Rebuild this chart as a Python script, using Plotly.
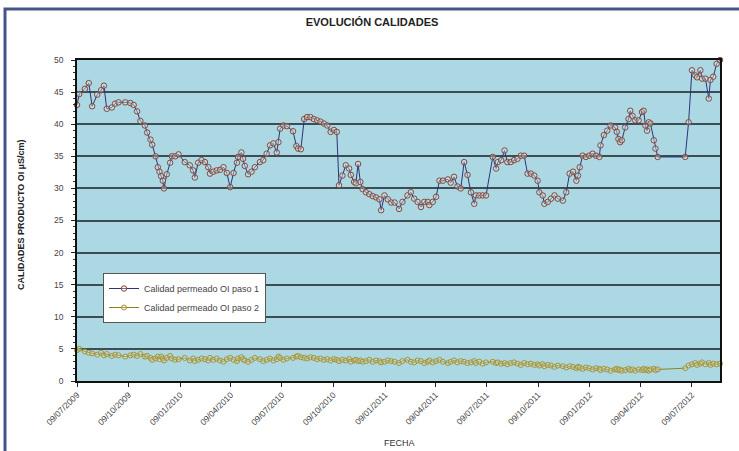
import plotly.graph_objects as go

# Fechas de muestreo
fechas = [
    "2009-07-09", "2009-07-13", "2009-07-23", "2009-07-30", "2009-08-05", "2009-08-14", "2009-08-21", "2009-08-26", "2009-08-31", "2009-09-09",
    "2009-09-15", "2009-09-21", "2009-10-03", "2009-10-12", "2009-10-18", "2009-10-24", "2009-10-30", "2009-11-07", "2009-11-11", "2009-11-17",
    "2009-11-20", "2009-11-26", "2009-11-30", "2009-12-03", "2009-12-06", "2009-12-09", "2009-12-11", "2009-12-16", "2009-12-22", "2009-12-25",
    "2009-12-31", "2010-01-06", "2010-01-17", "2010-01-26", "2010-02-01", "2010-02-04", "2010-02-10", "2010-02-16", "2010-02-22", "2010-02-28",
    "2010-03-03", "2010-03-09", "2010-03-15", "2010-03-21", "2010-03-27", "2010-04-02", "2010-04-08", "2010-04-14", "2010-04-20", "2010-04-22",
    "2010-04-28", "2010-05-01", "2010-05-04", "2010-05-10", "2010-05-16", "2010-05-22", "2010-05-31", "2010-06-06", "2010-06-12", "2010-06-18",
    "2010-06-24", "2010-06-30", "2010-07-03", "2010-07-06", "2010-07-12", "2010-07-18", "2010-07-29", "2010-08-04", "2010-08-07", "2010-08-12",
    "2010-08-18", "2010-08-23", "2010-08-29", "2010-09-04", "2010-09-10", "2010-09-16", "2010-09-22", "2010-09-28", "2010-10-04", "2010-10-10",
    "2010-10-15", "2010-10-19", "2010-10-25", "2010-10-31", "2010-11-06", "2010-11-09", "2010-11-15", "2010-11-18", "2010-11-22", "2010-11-26",
    "2010-11-30", "2010-12-06", "2010-12-12", "2010-12-18", "2010-12-24", "2010-12-30", "2011-01-02", "2011-01-08", "2011-01-14", "2011-01-20",
    "2011-01-26", "2011-02-03", "2011-02-09", "2011-02-18", "2011-02-24", "2011-03-02", "2011-03-08", "2011-03-14", "2011-03-20", "2011-03-26",
    "2011-03-29", "2011-04-04", "2011-04-10", "2011-04-16", "2011-04-22", "2011-05-01", "2011-05-06", "2011-05-12", "2011-05-18", "2011-05-24",
    "2011-05-30", "2011-06-05", "2011-06-11", "2011-06-17", "2011-06-20", "2011-06-26", "2011-07-02", "2011-07-08", "2011-07-20", "2011-07-26",
    "2011-07-29", "2011-08-04", "2011-08-10", "2011-08-15", "2011-08-21", "2011-08-27", "2011-09-02", "2011-09-08", "2011-09-14", "2011-09-20",
    "2011-09-26", "2011-10-02", "2011-10-08", "2011-10-11", "2011-10-17", "2011-10-20", "2011-10-26", "2011-11-01", "2011-11-07", "2011-11-13",
    "2011-11-22", "2011-11-28", "2011-12-04", "2011-12-10", "2011-12-16", "2011-12-19", "2011-12-22", "2011-12-27", "2012-01-02", "2012-01-08",
    "2012-01-14", "2012-01-20", "2012-01-26", "2012-01-28", "2012-02-03", "2012-02-09", "2012-02-15", "2012-02-23", "2012-02-26", "2012-02-29",
    "2012-03-03", "2012-03-06", "2012-03-12", "2012-03-18", "2012-03-21", "2012-03-25", "2012-03-30", "2012-04-05", "2012-04-11", "2012-04-14",
    "2012-04-17", "2012-04-20", "2012-04-23", "2012-04-26", "2012-05-02", "2012-05-05", "2012-05-09", "2012-06-27", "2012-07-03", "2012-07-09",
    "2012-07-15", "2012-07-18", "2012-07-24", "2012-07-27", "2012-08-02", "2012-08-08", "2012-08-11", "2012-08-16", "2012-08-22", "2012-08-28",
]

# Conductividad del permeado OI paso 1 (µS/cm)
paso1 = [
    43.0, 44.7, 45.5, 46.4, 42.8, 44.6, 45.3, 46.0, 42.4, 42.6,
    43.2, 43.4, 43.4, 43.3, 43.0, 42.0, 40.5, 39.8, 38.7, 37.6,
    36.8, 35.0, 33.3, 32.6, 31.9, 31.2, 30.0, 32.2, 34.0, 35.0,
    35.0, 35.3, 34.1, 33.6, 32.8, 31.7, 34.0, 34.4, 34.1, 33.3,
    32.3, 32.6, 32.8, 32.9, 33.3, 32.4, 30.2, 32.4, 34.0, 34.9,
    35.6, 34.6, 33.5, 32.2, 32.6, 33.3, 34.1, 34.4, 35.4, 36.7,
    37.0, 35.6, 37.2, 39.3, 39.8, 39.7, 38.9, 36.6, 36.2, 36.1,
    40.8, 41.1, 41.1, 40.8, 40.6, 40.4, 40.1, 39.8, 38.8, 39.1,
    38.8, 30.5, 32.0, 33.6, 33.1, 32.1, 31.0, 30.8, 33.8, 31.0,
    29.9, 29.4, 29.1, 28.8, 28.6, 28.3, 26.6, 28.9, 28.3, 27.8,
    27.8, 26.8, 27.9, 28.9, 29.4, 28.4, 27.9, 27.1, 27.9, 27.9,
    27.4, 27.9, 28.7, 31.2, 31.2, 31.4, 30.9, 31.8, 30.3, 30.0,
    34.1, 32.1, 29.4, 27.6, 28.9, 28.9, 28.9, 28.9, 34.9, 33.1,
    34.1, 34.4, 35.9, 34.1, 34.1, 34.4, 34.6, 35.1, 35.1, 32.3,
    32.3, 32.0, 31.2, 29.4, 28.9, 27.6, 27.9, 28.4, 28.9, 28.4,
    28.1, 29.4, 32.3, 32.6, 31.2, 32.0, 33.3, 35.1, 34.9, 35.1,
    35.4, 35.1, 34.9, 36.7, 38.3, 39.0, 39.8, 39.5, 38.8, 37.7,
    37.2, 37.5, 39.5, 40.8, 42.1, 41.3, 40.6, 40.6, 41.9, 42.1,
    39.8, 39.0, 40.3, 40.1, 37.5, 36.2, 34.9, 34.9, 40.3, 48.4,
    47.6, 47.3, 48.4, 47.1, 47.1, 44.0, 46.9, 47.4, 49.4, 50.0,
]

# Conductividad del permeado OI paso 2 (µS/cm)
paso2 = [
    4.8, 5.0, 4.6, 4.4, 4.3, 4.1, 4.4, 4.0, 4.2, 3.9,
    4.1, 4.0, 3.8, 4.0, 4.1, 3.9, 4.2, 3.8, 3.9, 3.6,
    3.3, 3.5, 3.8, 3.4, 3.8, 3.5, 3.2, 3.6, 3.9, 3.5,
    3.3, 3.4, 3.6, 3.2, 3.5, 3.1, 3.3, 3.5, 3.4, 3.2,
    3.6, 3.3, 3.5, 3.2, 3.0, 3.4, 3.6, 3.3, 3.1, 3.5,
    3.7, 3.4, 3.2, 3.0, 3.3, 3.6, 3.4, 3.1, 3.3, 3.5,
    3.2, 3.4, 3.8, 3.6, 3.3, 3.5, 3.6, 3.8, 3.9, 3.7,
    3.6, 3.5, 3.7, 3.6, 3.4, 3.5, 3.3, 3.4, 3.2, 3.4,
    3.3, 3.1, 3.3, 3.2, 3.4, 3.0, 3.2, 3.3, 3.1, 3.2,
    3.0, 3.1, 3.3, 3.0, 3.2, 3.1, 2.9, 3.0, 3.2, 3.1,
    3.0, 2.8, 3.1, 3.3, 3.0, 2.9, 3.2, 3.1, 2.8, 3.0,
    3.2, 2.9, 3.1, 3.3, 3.0, 2.8, 3.0, 3.2, 2.9, 3.1,
    3.0, 2.8, 2.9, 3.1, 2.8, 3.0, 2.7, 2.9, 3.0, 2.8,
    2.9, 2.7, 2.8, 2.6, 2.8, 2.9, 2.7, 2.5, 2.8, 2.6,
    2.7, 2.5, 2.6, 2.4, 2.6, 2.3, 2.5, 2.4, 2.2, 2.4,
    2.3, 2.1, 2.3, 2.2, 2.0, 2.2, 2.1, 1.9, 2.1, 2.0,
    1.8, 2.0, 1.9, 1.7, 1.9, 1.8, 1.6, 1.8, 1.9, 1.7,
    1.8, 1.6, 1.7, 1.9, 1.7, 1.8, 1.6, 1.8, 1.7, 1.9,
    1.7, 1.8, 1.6, 1.8, 1.9, 1.7, 1.8, 2.0, 2.4, 2.6,
    2.8, 2.5, 2.7, 2.9, 2.6, 2.8, 2.5, 2.7, 2.6, 2.7,
]

# Marcas del eje de fechas
tick_fechas = [
    "2009-07-09", "2009-10-09", "2010-01-09", "2010-04-09", "2010-07-09", "2010-10-09", "2011-01-09",
    "2011-04-09", "2011-07-09", "2011-10-09", "2012-01-09", "2012-04-09", "2012-07-09",
]
tick_textos = [
    "09/07/2009", "09/10/2009", "09/01/2010", "09/04/2010", "09/07/2010", "09/10/2010", "09/01/2011",
    "09/04/2011", "09/07/2011", "09/10/2011", "09/01/2012", "09/04/2012", "09/07/2012",
]

W, H = 739, 451
ML, MR, MT, MB = 77, 19, 60, 70
PW, PH = W - ML - MR, H - MT - MB


def px_x(px):
    return (px - ML) / PW


def px_y(py):
    return (H - MB - py) / PH


FONT = "Liberation Sans, Arial, sans-serif"

fig = go.Figure()

fig.add_trace(go.Scatter(
    x=fechas, y=paso1, mode="lines+markers",
    name="Calidad permeado OI paso 1",
    line=dict(color="#2c3579", width=1),
    marker=dict(symbol="circle", size=5.5, color="rgba(220,238,244,0.35)",
                line=dict(color="#8a4632", width=1)),
    cliponaxis=False,
))
fig.add_trace(go.Scatter(
    x=fechas, y=paso2, mode="lines+markers",
    name="Calidad permeado OI paso 2",
    line=dict(color="#8f821c", width=1),
    marker=dict(symbol="circle", size=5, color="rgba(220,238,244,0.25)",
                line=dict(color="#a8922c", width=1)),
    cliponaxis=False,
))

fig.update_layout(
    width=W, height=H,
    margin=dict(l=ML, r=MR, t=MT, b=MB),
    paper_bgcolor="white",
    plot_bgcolor="#abd8e3",
    font=dict(family=FONT, size=9, color="#333333"),
    title=dict(text="<b>EVOLUCIÓN CALIDADES</b>", x=372 / W, xanchor="center",
               y=1 - 22 / H, yanchor="middle", yref="container",
               font=dict(family=FONT, size=11, color="#222222")),
    showlegend=True,
    legend=dict(x=px_x(103), y=px_y(273), xanchor="left", yanchor="top",
                bgcolor="white", bordercolor="#555555", borderwidth=1,
                font=dict(family=FONT, size=9, color="#444444"),
                tracegroupgap=4, itemwidth=30),
    xaxis=dict(
        type="date",
        range=["2009-07-09", "2012-08-28"],
        tickvals=tick_fechas, ticktext=tick_textos,
        tickangle=-45,
        tickfont=dict(family=FONT, size=8.5, color="#444444"),
        ticks="outside", ticklen=4, tickcolor="#222222",
        showgrid=False, zeroline=False,
        showline=True, linecolor="#111111", linewidth=1.5, mirror=True,
    ),
    yaxis=dict(
        range=[0, 50], dtick=5,
        tickfont=dict(family=FONT, size=8.5, color="#444444"),
        ticks="outside", ticklen=4, tickcolor="#222222",
        ticklabelstandoff=6,
        minor=dict(dtick=1, ticks="outside", ticklen=2, tickcolor="#333333"),
        showgrid=True, gridcolor="#3c4d56", gridwidth=2,
        zeroline=False,
        showline=True, linecolor="#111111", linewidth=1.5, mirror=True,
    ),
    annotations=[
        dict(text="<b>CALIDADES PRODUCTO OI µS/cm)</b>", textangle=-90,
             x=px_x(21), y=px_y(215), xref="paper", yref="paper",
             xanchor="center", yanchor="middle", showarrow=False,
             font=dict(family=FONT, size=9, color="#222222")),
        dict(text="FECHA", x=px_x(399), y=px_y(443), xref="paper", yref="paper",
             xanchor="center", yanchor="middle", showarrow=False,
             font=dict(family=FONT, size=9, color="#333333")),
    ],
    shapes=[
        dict(type="rect", xref="paper", yref="paper",
             x0=px_x(5), x1=px_x(760), y0=px_y(470), y1=px_y(9),
             line=dict(color="#44558a", width=3), fillcolor="rgba(0,0,0,0)"),
    ],
)

fig.write_html("out.html")
